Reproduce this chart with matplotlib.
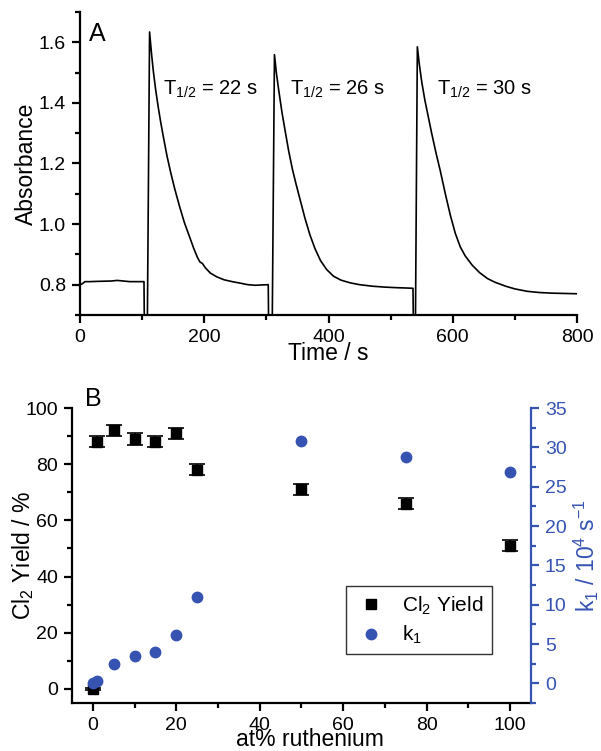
#!/usr/bin/env python3

import matplotlib
matplotlib.use('Agg')
import matplotlib.pyplot as plt
from matplotlib.ticker import MultipleLocator

# PANEL A - ABSORBANCE TRACE
time_s = [0, 3, 8, 15, 30, 50, 60, 70, 80, 90, 103,
          103.5, 108.5,
          112, 115, 118, 122, 126, 130, 134, 140, 146, 152, 160, 168, 176, 183,
          189, 193, 197, 202, 210, 220, 232, 245, 258, 270, 282, 292, 303,
          303.5, 309.5,
          313, 316, 320, 325, 330, 336, 342, 348, 355, 362, 370, 378, 387, 397,
          408, 420, 435, 450, 470, 490, 510, 525, 536,
          536.5, 540,
          543, 546, 550, 555, 560, 566, 573, 580, 588, 596, 604, 612, 620, 631,
          643, 656, 668, 685, 700, 720, 740, 760, 780, 800]
absorbance = [0.800, 0.802, 0.810, 0.810, 0.811, 0.812, 0.814, 0.812, 0.810, 0.810, 0.810,
              0.69, 0.69,
              1.634, 1.565, 1.505, 1.44, 1.385, 1.335, 1.29, 1.225, 1.17, 1.12, 1.06, 1.005, 0.96, 0.92,
              0.89, 0.875, 0.870, 0.855, 0.838, 0.826, 0.816, 0.810, 0.805, 0.800, 0.798, 0.799, 0.800,
              0.69, 0.69,
              1.559, 1.50, 1.44, 1.37, 1.31, 1.24, 1.18, 1.13, 1.075, 1.02, 0.965, 0.92, 0.88, 0.85,
              0.828, 0.815, 0.806, 0.800, 0.795, 0.792, 0.790, 0.789, 0.788,
              0.69, 0.69,
              1.585, 1.53, 1.47, 1.41, 1.36, 1.30, 1.235, 1.175, 1.10, 1.03, 0.97, 0.925, 0.895, 0.865,
              0.84, 0.82, 0.808, 0.795, 0.786, 0.778, 0.774, 0.772, 0.771, 0.770]

half_life_labels = [r'T$_{1/2}$ = 22 s', r'T$_{1/2}$ = 26 s', r'T$_{1/2}$ = 30 s']
half_life_x = [134, 338, 575]
half_life_y = 1.446

# PANEL B - YIELD AND RATE CONSTANT
ru_percent = [0, 1, 5, 10, 15, 20, 25, 50, 75, 100]
cl2_yield = [0, 88, 92, 89, 88, 91, 78, 71, 66, 51]
cl2_err = [0.5, 2, 2, 2, 2, 2, 2, 2, 2, 2]
k1 = [0.05, 0.35, 2.45, 3.5, 4.0, 6.15, 10.95, 30.8, 28.8, 26.9]

BLUE = '#3653b2'
TICK_FS = 14
LABEL_FS = 16.5


def style_axis(ax, color='black'):
    """SETS TICK STYLE FOR AN AXIS"""

    ax.tick_params(which='major', direction='out', length=6, width=1.6,
                   labelsize=TICK_FS, pad=4, colors=color)
    ax.tick_params(which='minor', direction='out', length=3.5, width=1.6, colors=color)
    for side in ax.spines:
        ax.spines[side].set_linewidth(1.6)


def plot_trace(fig):
    """PANEL A"""

    ax = fig.add_axes([0.1331, 0.5806, 0.827, 0.4035])
    ax.plot(time_s, absorbance, color='black', lw=1.2)
    ax.set_xlim(0, 800)
    ax.set_ylim(0.7, 1.7)
    ax.set_xticks([0, 200, 400, 600, 800])
    ax.set_yticks([0.8, 1.0, 1.2, 1.4, 1.6])
    ax.xaxis.set_minor_locator(MultipleLocator(100))
    ax.yaxis.set_minor_locator(MultipleLocator(0.1))
    ax.spines['top'].set_visible(False)
    ax.spines['right'].set_visible(False)
    style_axis(ax)
    ax.set_xlabel('Time / s', fontsize=LABEL_FS, labelpad=-3)
    ax.set_ylabel('Absorbance', fontsize=LABEL_FS, labelpad=1)

    for label, x in zip(half_life_labels, half_life_x):
        ax.text(x, half_life_y, label, fontsize=14.5, va='center', ha='left')
    ax.text(0.018, 0.967, 'A', transform=ax.transAxes, fontsize=18, va='top', ha='left')


def plot_yield(fig):
    """PANEL B"""

    ax = fig.add_axes([0.1198, 0.0639, 0.7637, 0.3928])
    ax.errorbar(ru_percent, cl2_yield, yerr=cl2_err, fmt='none', ecolor='black',
                elinewidth=1.2, capsize=6, capthick=1.2)
    sq, = ax.plot(ru_percent, cl2_yield, 's', color='black', ms=6.5, label=r'Cl$_2$ Yield')
    ax.set_xlim(-5, 105)
    ax.set_ylim(-5, 100)
    ax.set_xticks([0, 20, 40, 60, 80, 100])
    ax.set_yticks([0, 20, 40, 60, 80, 100])
    ax.xaxis.set_minor_locator(MultipleLocator(10))
    ax.yaxis.set_minor_locator(MultipleLocator(10))
    ax.spines['top'].set_visible(False)
    ax.spines['right'].set_visible(False)
    style_axis(ax)
    ax.set_xlabel('at% ruthenium', fontsize=LABEL_FS)
    ax.xaxis.set_label_coords(0.519, -0.085)
    ax.set_ylabel(r'Cl$_2$ Yield / %', fontsize=LABEL_FS)
    ax.yaxis.set_label_coords(-0.078, 0.5)

    ax2 = ax.twinx()
    dot, = ax2.plot(ru_percent, k1, 'o', color=BLUE, ms=7.5, label=r'k$_1$')
    ax2.set_ylim(-2.5, 35)
    ax2.set_yticks(range(0, 36, 5))
    ax2.yaxis.set_minor_locator(MultipleLocator(2.5))
    for side in ['top', 'left', 'bottom']:
        ax2.spines[side].set_visible(False)
    style_axis(ax2, BLUE)
    ax2.spines['right'].set_color(BLUE)
    ax2.set_ylabel(r'k$_1$ / 10$^4$ s$^{-1}$', fontsize=LABEL_FS, color=BLUE, labelpad=4)

    leg = ax2.legend(handles=[sq, dot], loc='upper left', bbox_to_anchor=(0.597, 0.397),
                     borderaxespad=0, fontsize=15, frameon=True, fancybox=False,
                     edgecolor='black', handlelength=1.6, handletextpad=0.7,
                     borderpad=0.4, labelspacing=0.35)
    leg.get_frame().set_linewidth(1.0)
    ax.text(0.028, 0.99, 'B', transform=ax.transAxes, fontsize=18, va='bottom', ha='left')


def main():

    plt.rcParams['font.family'] = ['Liberation Sans', 'DejaVu Sans']
    plt.rcParams['mathtext.fontset'] = 'custom'
    plt.rcParams['mathtext.rm'] = 'Liberation Sans'
    plt.rcParams['mathtext.it'] = 'Liberation Sans'
    plt.rcParams['mathtext.default'] = 'regular'

    fig = plt.figure(figsize=(6.01, 7.51), dpi=100)
    plot_trace(fig)
    plot_yield(fig)
    fig.savefig('out.png', dpi=100)


if __name__ == "__main__":
    main()
